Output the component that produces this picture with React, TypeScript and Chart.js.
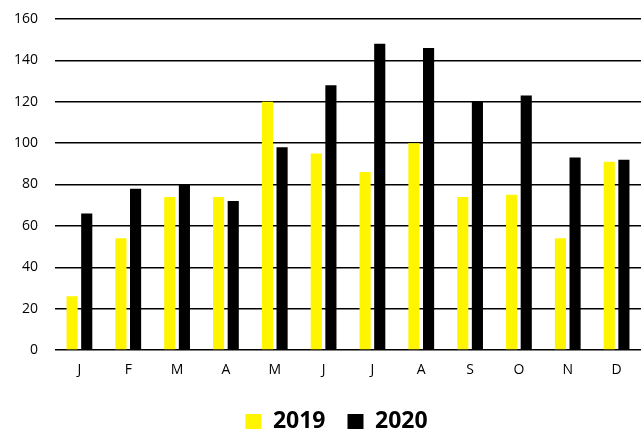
import React, { useEffect, useRef } from "react";
import { Chart, registerables } from "chart.js";

Chart.register(...registerables);

const months = ["J", "F", "M", "A", "M", "J", "J", "A", "S", "O", "N", "D"];
const values2019 = [26, 54, 74, 74, 120, 95, 86, 100, 74, 75, 54, 91];
const values2020 = [66, 78, 80, 72, 98, 128, 148, 146, 120, 123, 93, 92];
const seriesNames = ["2019", "2020"];
const yMin = 0;
const yMax = 160;
const yStep = 20;

const FONT = "'Open Sans', 'Liberation Sans', sans-serif";

const LEG_DX = 16;
const LEG_DY = 11;

const legendShift = {
  id: "legendShift",
  beforeDraw(chart: any) {
    const lg = chart.legend;
    if (lg) {
      lg.left += LEG_DX;
      lg.right += LEG_DX;
      lg.top += LEG_DY;
      lg.bottom += LEG_DY;
    }
  },
  afterDraw(chart: any) {
    const lg = chart.legend;
    if (lg) {
      lg.left -= LEG_DX;
      lg.right -= LEG_DX;
      lg.top -= LEG_DY;
      lg.bottom -= LEG_DY;
    }
  },
};

export default function App() {
  const ref = useRef<HTMLCanvasElement | null>(null);

  useEffect(() => {
    if (!ref.current) return;
    const chart = new Chart(ref.current, {
      type: "bar",
      data: {
        labels: months,
        datasets: [
          {
            label: seriesNames[0],
            data: values2019,
            backgroundColor: "#FFF500",
            borderWidth: 0,
            categoryPercentage: 0.6,
            barPercentage: 0.76,
          },
          {
            label: seriesNames[1],
            data: values2020,
            backgroundColor: "#000000",
            borderWidth: 0,
            categoryPercentage: 0.6,
            barPercentage: 0.76,
          },
        ],
      },
      options: {
        animation: false,
        responsive: false,
        maintainAspectRatio: false,
        layout: { padding: { top: 0, right: 0, bottom: 0, left: 0 } },
        plugins: {
          tooltip: { enabled: false },
          title: { display: false },
          legend: {
            display: true,
            position: "bottom",
            labels: {
              boxWidth: 16,
              boxHeight: 15,
              padding: 22,
              color: "#000",
              font: { family: FONT, size: 23, weight: "bold" },
            },
          },
        },
        scales: {
          x: {
            grid: { display: false, drawTicks: false },
            border: { display: false },
            ticks: {
              color: "#000",
              padding: 12,
              font: { family: FONT, size: 14 },
              maxRotation: 0,
              autoSkip: false,
            },
            afterFit(scale: any) {
              scale.height = 27;
            },
          },
          y: {
            min: yMin,
            max: yMax,
            border: { display: false },
            grid: { color: "#000", lineWidth: 1.4, drawTicks: false },
            ticks: {
              stepSize: yStep,
              color: "#000",
              padding: 17,
              font: { family: FONT, size: 14 },
            },
            afterFit(scale: any) {
              scale.width = 55;
              scale.paddingTop = 19;
            },
          },
        },
      },
      plugins: [legendShift],
    });
    return () => chart.destroy();
  }, []);

  return (
    <div style={{ position: "fixed", left: 0, top: 0, width: 641, height: 432, background: "#fff" }}>
      <canvas ref={ref} width={641} height={432} style={{ width: 641, height: 432 }} />
    </div>
  );
}
